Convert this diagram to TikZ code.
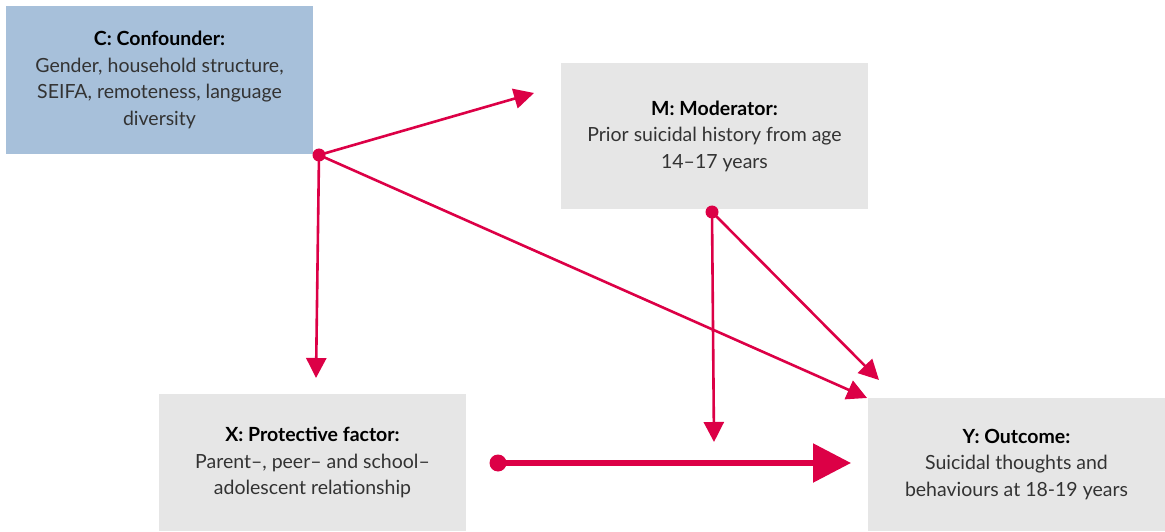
\documentclass[tikz,border=0pt]{standalone}
\usepackage{fontspec}
\setmainfont{Lato}
\usetikzlibrary{arrows.meta}
\definecolor{linkred}{HTML}{DC0046}
\definecolor{confblue}{HTML}{A7C0DA}
\definecolor{boxgrey}{HTML}{E6E6E6}
\definecolor{txtgrey}{HTML}{333333}
\tikzset{
  box/.style={fill=boxgrey, text=txtgrey, align=center, inner sep=0pt,
    font=\fontsize{19.5}{26.5}\selectfont},
  link/.style={draw=linkred, line width=2.6pt, -{Triangle[length=20pt,width=20pt]}},
  dot/.style={circle, fill=linkred, inner sep=0pt, minimum size=13pt},
}
\newcommand{\boxtitle}[1]{{\bfseries\color{black}#1}\\}
\begin{document}
\begin{tikzpicture}[x=1pt, y=1pt]
  \useasboundingbox (0,0) rectangle (1165,531);
  % the four variable boxes
  \node[box, fill=confblue, minimum width=307pt, minimum height=148pt] (C) at (159.5,451)
    {\boxtitle{C: Confounder:}Gender, household structure,\\SEIFA, remoteness, language\\diversity};
  \node[box, minimum width=307pt, minimum height=146pt] (M) at (714.5,395)
    {\boxtitle{M: Moderator:}Prior suicidal history from age\\14–17 years};
  \node[box, minimum width=307pt, minimum height=137pt] (X) at (312.5,68.5)
    {\boxtitle{X: Protective factor:}Parent–, peer– and school–\\adolescent relationship};
  \node[box, minimum width=297pt, minimum height=133pt] (Y) at (1016.5,66.5)
    {\boxtitle{Y: Outcome:}Suicidal thoughts and\\behaviours at 18-19 years};
  % start points of the arrows
  \node[dot] (cdot) at (319,376) {};
  \node[dot] (mdot) at (712,319) {};
  \node[dot, minimum size=17pt] (xdot) at (498,68) {};
  % arrow ends
  \coordinate (toM) at (534,438);
  \coordinate (toX) at (316,153);
  \coordinate (toYc) at (867,133);
  \coordinate (toYm) at (879,151);
  \coordinate (toXY) at (714,89);
  \coordinate (toY) at (851,68);
  \draw[link] (cdot.center) -- (toM);
  \draw[link] (cdot.center) -- (toX);
  \draw[link] (cdot.center) -- (toYc);
  \draw[link] (mdot.center) -- (toYm);
  \draw[link] (mdot.center) -- (toXY);
  \draw[link, line width=5.5pt, -{Triangle[length=38pt,width=38pt]}] (xdot.center) -- (toY);
\end{tikzpicture}
\end{document}
